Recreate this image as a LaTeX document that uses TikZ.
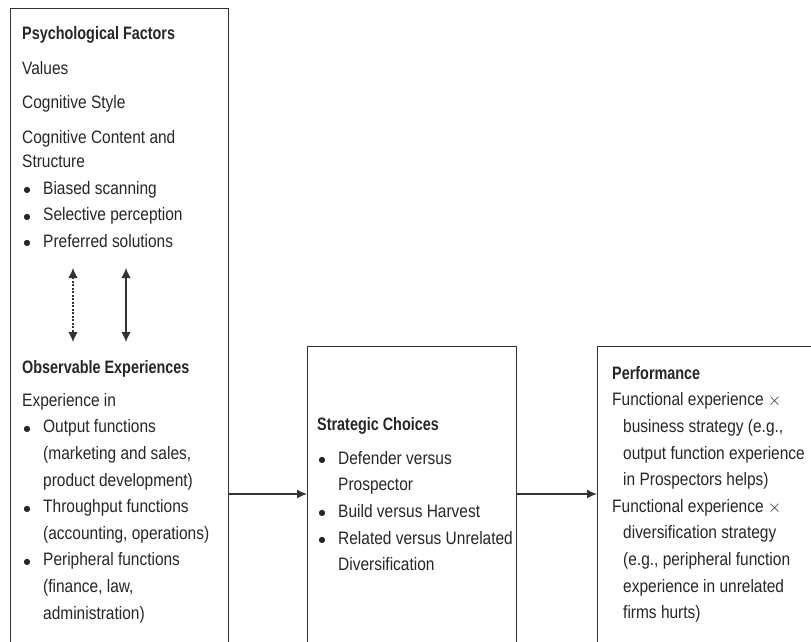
\documentclass[tikz,border=0pt]{standalone}
\usepackage{fontspec}
\setmainfont{Liberation Sans}[FakeStretch=0.86, BoldFeatures={FakeStretch=0.8}]
\newfontfamily\symfont{DejaVu Sans}
\usetikzlibrary{arrows.meta}
\definecolor{linegray}{HTML}{333333}
\definecolor{textgray}{HTML}{262626}
% bullet line and its continuation indents
\newcommand\itembul{\hspace*{1.5pt}\makebox[19.5pt][l]{\raisebox{1.6pt}{\symfont\fontsize{8}{8}\selectfont ●}}}
\newcommand\itemcont{\hspace*{21pt}}
\newcommand\hangcont{\hspace*{11pt}}
\begin{document}
\begin{tikzpicture}[x=1pt,y=-1pt,
  box/.style={draw=linegray, line width=1.3pt, inner sep=0pt, anchor=north west},
  txt/.style={anchor=north west, inner sep=0pt, align=left, text=textgray,
              font=\fontsize{18}{26.6}\selectfont},
  link/.style={draw=linegray, line width=1.4pt, -{Latex[length=10pt,width=9pt]}},
  twoway/.style={draw=linegray, line width=1.2pt, {Latex[length=10pt,width=9.5pt]}-{Latex[length=10pt,width=9.5pt]}},
]
\useasboundingbox (0,0) rectangle (811,641);
\clip (0,0) rectangle (811,641);

% the three boxes (they run past the lower edge)
\node[box, minimum width=218pt, minimum height=700pt] (psych) at (10,8) {};
\node[box, minimum width=209pt, minimum height=400pt] (mid) at (307,346) {};
\node[box, minimum width=300pt, minimum height=400pt] (perf) at (597,346) {};

% upper part of the left box
\node[txt] (psychtext) at (22,26) {\textbf{Psychological Factors}\\[9pt]
  Values\\[7pt]
  Cognitive Style\\[8pt]
  Cognitive Content and\\[-2pt]
  Structure\\
  \itembul Biased scanning\\
  \itembul Selective perception\\
  \itembul Preferred solutions};

% lower part of the left box
\node[txt] (obstext) at (22,360) {\textbf{Observable Experiences}\\[6.4pt]
  Experience in\\
  \itembul Output functions\\
  \itemcont (marketing and sales,\\
  \itemcont product development)\\
  \itembul Throughput functions\\
  \itemcont (accounting, operations)\\
  \itembul Peripheral functions\\
  \itemcont (finance, law,\\
  \itemcont administration)};

% middle box
\node[txt] (midtext) at (317,417) {\textbf{Strategic Choices}\\[7.4pt]
  \itembul Defender versus\\
  \itemcont Prospector\\
  \itembul Build versus Harvest\\
  \itembul Related versus Unrelated\\
  \itemcont Diversification};

% right box
\node[txt] (perftext) at (612,366) {\textbf{Performance}\\
  Functional experience $\times$\\
  \hangcont business strategy (e.g.,\\
  \hangcont output function experience\\
  \hangcont in Prospectors helps)\\
  Functional experience $\times$\\
  \hangcont diversification strategy\\
  \hangcont (e.g., peripheral function\\
  \hangcont experience in unrelated\\
  \hangcont firms hurts)};

% two-way links between the two parts of the left box
\coordinate (dashtop) at (73,268);
\coordinate (dashbot) at (73,342);
\coordinate (soltop) at (126,268);
\coordinate (solbot) at (126,342);
\draw[twoway, dash pattern=on 2pt off 1.5pt] (dashtop) -- (dashbot);
\draw[twoway] (soltop) -- (solbot);

% flow between the boxes
\draw[link] (psych.east |- 0,494) -- (mid.west |- 0,494);
\draw[link] (mid.east |- 0,494) -- (perf.west |- 0,494);
\end{tikzpicture}
\end{document}
